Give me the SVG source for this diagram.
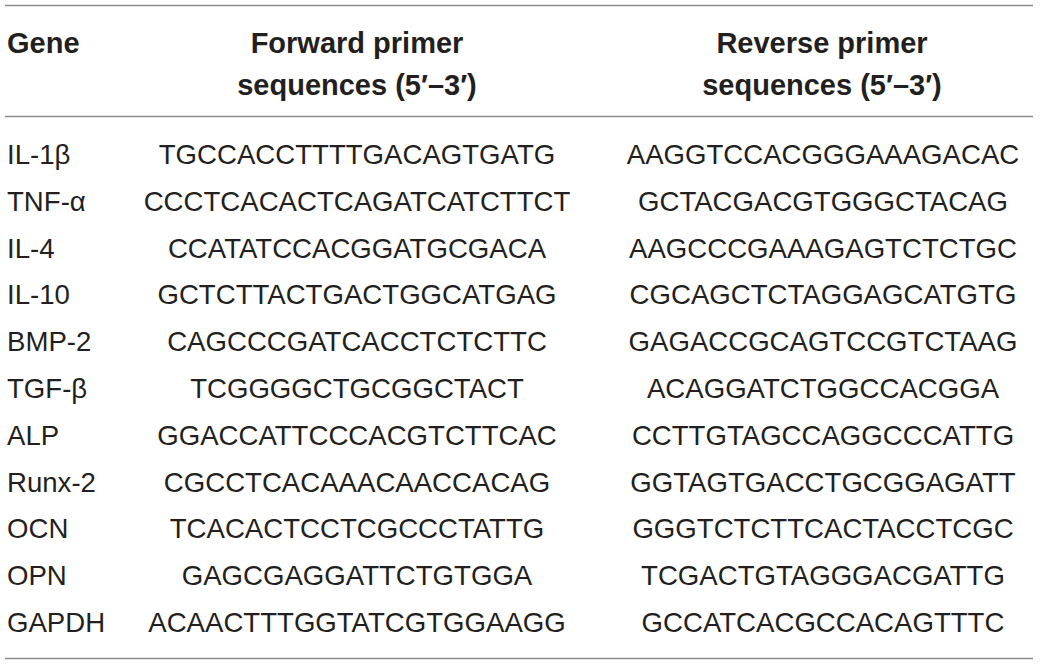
<svg xmlns="http://www.w3.org/2000/svg" width="1040" height="667" viewBox="0 0 1040 667">
<style>
.t{font-family:"Liberation Sans",Arial,Helvetica,sans-serif;font-size:27.6px;fill:#231f20}
.h{font-weight:bold;font-size:29px}
.c{text-anchor:middle}
.rule{stroke:#8a8a8a;stroke-width:1.6}
</style>
<rect width="1040" height="667" fill="#fff"/>
<g id="rules">
<line class="rule" x1="5" y1="5.5" x2="1033" y2="5.5"/>
<line class="rule" x1="5" y1="116.5" x2="1033" y2="116.5"/>
<line class="rule" x1="5" y1="658.5" x2="1033" y2="658.5"/>
</g>
<g id="header" class="t h">
<text x="7" y="53">Gene</text>
<text class="c" x="357" y="53">Forward primer</text>
<text class="c" x="357" y="95">sequences (5′–3′)</text>
<text class="c" x="822" y="53">Reverse primer</text>
<text class="c" x="822" y="95">sequences (5′–3′)</text>
</g>
<g id="genes" class="t">
<text x="7" y="164">IL-1β</text>
<text x="7" y="210.8">TNF-α</text>
<text x="7" y="257.6">IL-4</text>
<text x="7" y="304.4">IL-10</text>
<text x="7" y="351.2">BMP-2</text>
<text x="7" y="398">TGF-β</text>
<text x="7" y="444.8">ALP</text>
<text x="7" y="491.6">Runx-2</text>
<text x="7" y="538.4">OCN</text>
<text x="7" y="585.2">OPN</text>
<text x="7" y="632">GAPDH</text>
</g>
<g id="forward" class="t c">
<text x="357" y="164">TGCCACCTTTTGACAGTGATG</text>
<text x="357" y="210.8">CCCTCACACTCAGATCATCTTCT</text>
<text x="357" y="257.6">CCATATCCACGGATGCGACA</text>
<text x="357" y="304.4">GCTCTTACTGACTGGCATGAG</text>
<text x="357" y="351.2">CAGCCCGATCACCTCTCTTC</text>
<text x="357" y="398">TCGGGGCTGCGGCTACT</text>
<text x="357" y="444.8">GGACCATTCCCACGTCTTCAC</text>
<text x="357" y="491.6">CGCCTCACAAACAACCACAG</text>
<text x="357" y="538.4">TCACACTCCTCGCCCTATTG</text>
<text x="357" y="585.2">GAGCGAGGATTCTGTGGA</text>
<text x="357" y="632">ACAACTTTGGTATCGTGGAAGG</text>
</g>
<g id="reverse" class="t c">
<text x="823" y="164">AAGGTCCACGGGAAAGACAC</text>
<text x="823" y="210.8">GCTACGACGTGGGCTACAG</text>
<text x="823" y="257.6">AAGCCCGAAAGAGTCTCTGC</text>
<text x="823" y="304.4">CGCAGCTCTAGGAGCATGTG</text>
<text x="823" y="351.2">GAGACCGCAGTCCGTCTAAG</text>
<text x="823" y="398">ACAGGATCTGGCCACGGA</text>
<text x="823" y="444.8">CCTTGTAGCCAGGCCCATTG</text>
<text x="823" y="491.6">GGTAGTGACCTGCGGAGATT</text>
<text x="823" y="538.4">GGGTCTCTTCACTACCTCGC</text>
<text x="823" y="585.2">TCGACTGTAGGGACGATTG</text>
<text x="823" y="632">GCCATCACGCCACAGTTTC</text>
</g>
</svg>
